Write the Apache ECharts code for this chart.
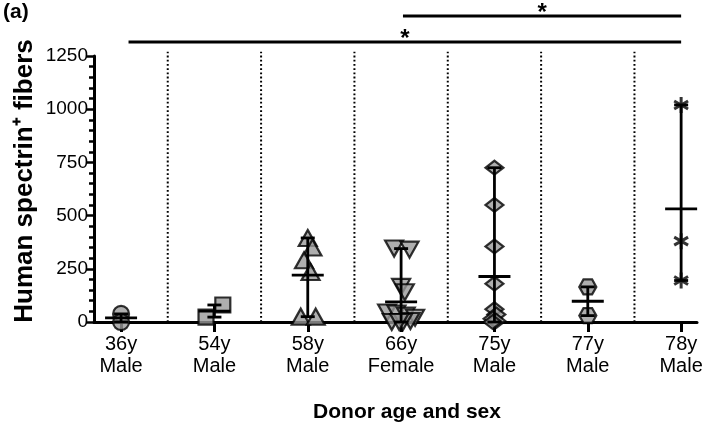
<!DOCTYPE html>
<html><head><meta charset="utf-8">
<script src="https://cdn.jsdelivr.net/npm/echarts@6/dist/echarts.min.js"></script>
<style>html,body{margin:0;padding:0;background:#fff}#c{width:709px;height:428px}</style>
</head><body><div id="c"></div>
<script>
// ---- data ----
const categories = ['36y\nMale', '54y\nMale', '58y\nMale', '66y\nFemale', '75y\nMale', '77y\nMale', '78y\nMale'];
const yTicks = [0, 250, 500, 750, 1000, 1250];

const v36 = [38, 0];
const j36 = [0, 0];
const v54 = [80, 23];
const j54 = [0.09, -0.09];
const v58 = [395, 350, 290, 235, 25, 25];
const j58 = [0, 0.05, -0.04, 0.03, -0.075, 0.085];
const v66 = [345, 340, 165, 140, 45, 40, 30, 20, 5, 0, 0, 0];
const j66 = [-0.075, 0.09, 0, 0.04, -0.15, -0.05, 0.05, 0.15, 0.1, -0.1, 0.02, -0.02];
const v75 = [725, 550, 355, 180, 60, 35, 15, 5, 0];
const j75 = [0, 0, 0, 0, 0, 0.02, -0.02, 0.02, -0.02];
const v77 = [165, 30];
const j77 = [0, 0];
const v78 = [1020, 380, 195];
const j78 = [0, 0, 0];

// significance comparisons: [from, to, bar height (value units)]
const sigBars = [[0.08, 6, 1316], [3.02, 6, 1438]];
const sigText = ['*', '*'];

// ---- build ----
const groups = [
  {v: v36, j: j36, symbol: 'circle', size: 16},
  {v: v54, j: j54, symbol: 'rect', size: 15},
  {v: v58, j: j58, symbol: 'triangle', size: [18, 16]},
  {v: v66, j: j66, symbol: 'triangle', size: [18, 16], rotate: 180},
  {v: v75, j: j75, symbol: 'diamond', size: [18, 14]},
  {v: v77, j: j77, symbol: 'path://M-1,0 L-0.5,-0.866 L0.5,-0.866 L1,0 L0.5,0.866 L-0.5,0.866 Z', size: [17, 15]},
  {v: v78, j: j78, symbol: 'path://M0,-1 L0,1 M-0.866,-0.5 L0.866,0.5 M-0.866,0.5 L0.866,-0.5', size: 16, star: true}
];

const FONT = 'Liberation Sans, Arial, sans-serif';
const series = [];

// dotted separators between groups
const seps = categories.slice(1).map((c, i) => [i + 0.5, 0, 1270]);
series.push({
  type: 'custom', silent: true, clip: false, z: 1,
  data: seps,
  encode: {x: 0, y: [1, 2]},
  renderItem(params, api) {
    const a = api.coord([api.value(0), api.value(1)]);
    const b = api.coord([api.value(0), api.value(2)]);
    return {type: 'line', shape: {x1: a[0], y1: a[1], x2: b[0], y2: b[1]},
      style: {stroke: '#000', lineWidth: 2, lineDash: [1.8, 2.4], lineCap: 'butt'}};
  }
});

groups.forEach((g, gi) => {
  series.push({
    type: 'scatter', z: 3,
    symbol: g.symbol, symbolSize: g.size, symbolRotate: g.rotate || 0,
    symbolKeepAspect: !!g.star,
    itemStyle: g.star ? {color: 'rgba(0,0,0,0)', borderColor: '#000', borderWidth: 3}
                      : {color: '#9a9a9a', borderColor: '#000', borderWidth: 2.2},
    data: g.v.map((v, i) => [gi + g.j[i], v])
  });
});

// mean + range error bars
const errData = groups.map((g, gi) => {
  const mean = g.v.reduce((s, x) => s + x, 0) / g.v.length;
  return [gi, Math.min(...g.v), Math.max(...g.v), mean];
});
series.push({
  type: 'custom', z: 5, clip: false,
  data: errData,
  encode: {x: 0, y: [1, 2, 3]},
  renderItem(params, api) {
    const x = api.value(0);
    const lo = api.coord([x, api.value(1)]);
    const hi = api.coord([x, api.value(2)]);
    const m = api.coord([x, api.value(3)]);
    const st = {stroke: '#000', lineWidth: 2.8};
    const cap = 7, mw = 16;
    return {type: 'group', children: [
      {type: 'line', shape: {x1: lo[0], y1: lo[1], x2: hi[0], y2: hi[1]}, style: st},
      {type: 'line', shape: {x1: hi[0] - cap, y1: hi[1], x2: hi[0] + cap, y2: hi[1]}, style: st},
      {type: 'line', shape: {x1: lo[0] - cap, y1: lo[1], x2: lo[0] + cap, y2: lo[1]}, style: st},
      {type: 'line', shape: {x1: m[0] - mw, y1: m[1], x2: m[0] + mw, y2: m[1]}, style: st}
    ]};
  }
});

// significance bars
series.push({
  type: 'custom', z: 5, clip: false, silent: true,
  data: sigBars.map((s, i) => [s[0], s[1], s[2], i]),
  encode: {x: [0, 1], y: 2},
  renderItem(params, api) {
    const a = api.coord([api.value(0), api.value(2)]);
    const b = api.coord([api.value(1), api.value(2)]);
    return {type: 'group', children: [
      {type: 'line', shape: {x1: a[0], y1: a[1], x2: b[0], y2: b[1]}, style: {stroke: '#000', lineWidth: 3}},
      {type: 'text', x: (a[0] + b[0]) / 2, y: a[1] - 3,
        style: {text: sigText[api.value(3)], font: 'bold 24px ' + FONT, fill: '#000', align: 'center', verticalAlign: 'middle'}}
    ]};
  }
});

const chart = echarts.init(document.getElementById('c'), null, {renderer: 'canvas'});
chart.setOption({
  animation: false,
  backgroundColor: '#fff',
  textStyle: {fontFamily: FONT},
  grid: {left: 94, right: 12, top: 56, bottom: 106, containLabel: false, outerBoundsMode: 'none'},
  xAxis: {
    type: 'value', min: -0.29, max: 6.17,
    axisLine: {show: true, onZero: false, lineStyle: {color: '#000', width: 3}},
    axisTick: {show: true, customValues: categories.map((c, i) => i), length: 10, lineStyle: {color: '#000', width: 3}},
    axisLabel: {show: true, customValues: categories.map((c, i) => i),
      formatter: v => categories[Math.round(v)], color: '#000', fontSize: 20, lineHeight: 22, margin: 11, fontFamily: FONT},
    splitLine: {show: false}
  },
  yAxis: {
    type: 'value', min: 0, max: 1250, interval: 250,
    axisLine: {show: true, onZero: false, lineStyle: {color: '#000', width: 3}},
    axisTick: {show: true, length: 8, lineStyle: {color: '#000', width: 2.5}},
    minorTick: {show: true, splitNumber: 5, length: 5, lineStyle: {color: '#000', width: 2.5}},
    axisLabel: {color: '#000', fontSize: 19, margin: 6, fontFamily: FONT,
      formatter: v => yTicks.includes(v) ? String(v) : ''},
    splitLine: {show: false}
  },
  graphic: [
    {type: 'text', left: 3, top: 2, style: {text: '(a)', font: 'bold 21px ' + FONT, fill: '#000'}},
    {type: 'text', x: 25, y: 181, rotation: Math.PI / 2,
      style: {text: 'Human spectrin\u207A fibers', font: 'bold 26px ' + FONT, fill: '#000', align: 'center', verticalAlign: 'middle'}},
    {type: 'text', x: 407, y: 412, style: {text: 'Donor age and sex', font: 'bold 21px ' + FONT, fill: '#000', align: 'center', verticalAlign: 'middle'}}
  ],
  series
});
</script>
</body></html>
